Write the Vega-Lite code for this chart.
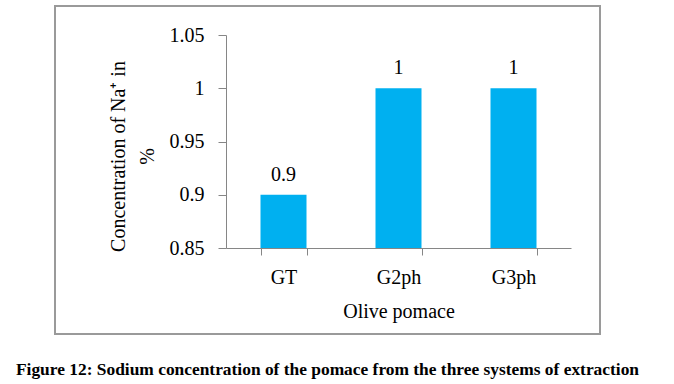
{
  "$schema": "https://vega.github.io/schema/vega-lite/v6.json",
  "width": 545,
  "height": 328,
  "autosize": {"type": "none"},
  "padding": {"left": 55, "top": 6, "right": 74, "bottom": 50},
  "background": "white",
  "config": {
    "view": {"stroke": "#9a9a9a", "strokeWidth": 2},
    "font": "Liberation Serif"
  },
  "title": {
    "text": "Figure 12: Sodium concentration of the pomace from the three systems of extraction",
    "orient": "bottom",
    "frame": "group",
    "anchor": "middle",
    "offset": 27,
    "font": "Liberation Serif",
    "fontSize": 17.4,
    "fontWeight": "bold",
    "color": "#000000"
  },
  "data": {
    "values": [
      {"pomace": "GT", "value": 0.9},
      {"pomace": "G2ph", "value": 1.0},
      {"pomace": "G3ph", "value": 1.0}
    ]
  },
  "encoding": {
    "x": {
      "field": "pomace",
      "type": "nominal",
      "sort": ["GT", "G2ph", "G3ph"],
      "scale": {"range": [171, 516], "paddingInner": 0.6, "paddingOuter": 0.3},
      "axis": {
        "title": "Olive pomace",
        "orient": "bottom",
        "offset": -86,
        "labelAngle": 0,
        "tickBand": "extent",
        "tickSize": 7,
        "labelPadding": 12,
        "titlePadding": 14,
        "labelFont": "Liberation Serif",
        "labelFontSize": 20,
        "labelColor": "#000000",
        "titleFont": "Liberation Serif",
        "titleFontSize": 20,
        "titleFontWeight": "normal",
        "titleColor": "#000000",
        "domainColor": "#868686",
        "tickColor": "#868686",
        "grid": false
      }
    },
    "y": {
      "field": "value",
      "type": "quantitative",
      "scale": {"domain": [0.85, 1.05], "range": [242, 29], "zero": false, "nice": false},
      "axis": {
        "title": ["Concentration of Na⁺ in", "%"],
        "orient": "left",
        "offset": -171,
        "tickCount": 5,
        "labelExpr": "format(datum.value, '~g')",
        "labelFlush": false,
        "tickSize": 8,
        "labelPadding": 14,
        "titlePadding": 12,
        "titleY": 150,
        "titleLineHeight": 29,
        "labelFont": "Times New Roman",
        "labelFontSize": 20,
        "labelColor": "#000000",
        "titleFont": "Liberation Serif",
        "titleFontSize": 20,
        "titleFontWeight": "normal",
        "titleColor": "#000000",
        "domainColor": "#868686",
        "tickColor": "#868686",
        "grid": false
      }
    }
  },
  "layer": [
    {
      "mark": {"type": "bar", "color": "#00B0F0"},
      "encoding": {
        "y2": {"datum": 0.85}
      }
    },
    {
      "mark": {"type": "text", "baseline": "alphabetic", "dy": -14, "font": "Liberation Serif", "fontSize": 20, "color": "#000000"},
      "encoding": {
        "text": {"field": "value", "type": "quantitative"}
      }
    }
  ]
}
